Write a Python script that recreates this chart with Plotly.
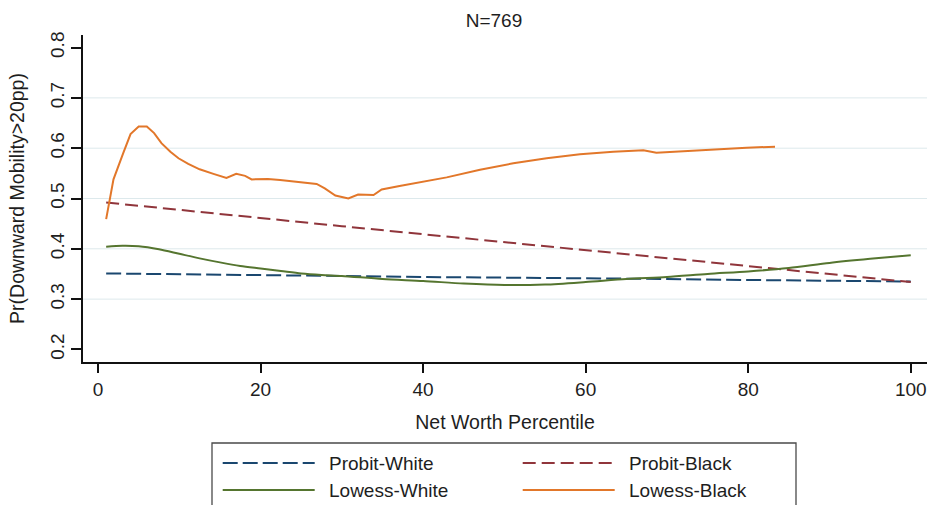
import plotly.graph_objects as go

# Net worth percentile grid and fitted probabilities
probit_x = [1, 10, 20, 30, 40, 50, 60, 70, 80, 90, 100]
probit_white = [0.351, 0.349, 0.348, 0.346, 0.344, 0.343, 0.341, 0.340, 0.338, 0.337, 0.335]
probit_black = [0.492, 0.477, 0.461, 0.445, 0.429, 0.413, 0.397, 0.381, 0.365, 0.349, 0.334]

lowess_white_x = [1, 3, 5, 7.5, 10, 12.5, 15, 17.5, 20, 22.5, 25, 27.5, 30, 35, 40, 45,
                  50, 55, 60, 65, 70, 75, 80, 85, 90, 95, 100]
lowess_white = [0.404, 0.406, 0.405, 0.399, 0.390, 0.381, 0.373, 0.366, 0.361, 0.356,
                0.351, 0.348, 0.346, 0.340, 0.336, 0.331, 0.328, 0.329, 0.334, 0.340,
                0.344, 0.350, 0.355, 0.362, 0.372, 0.380, 0.387]

lowess_black_x = [1.0, 1.9, 3.1, 4.0, 5.0, 6.0, 6.9, 7.8, 8.9, 9.9, 11.1, 12.5, 14.2, 15.8,
                  17.0, 18.1, 18.9, 20.9, 22.4, 24.4, 26.9, 27.9, 29.2, 30.8, 32.0, 33.9,
                  34.9, 37.1, 38.8, 42.9, 47.0, 51.1, 55.2, 59.3, 63.4, 67.1, 68.7, 71.6,
                  75.7, 79.8, 83.3]
lowess_black = [0.459, 0.538, 0.590, 0.628, 0.643, 0.643, 0.630, 0.610, 0.593, 0.580,
                0.569, 0.558, 0.549, 0.541, 0.549, 0.545, 0.538, 0.539, 0.537, 0.533,
                0.529, 0.520, 0.506, 0.500, 0.508, 0.507, 0.518, 0.525, 0.530, 0.542,
                0.557, 0.570, 0.580, 0.588, 0.593, 0.596, 0.591, 0.594, 0.598, 0.601,
                0.603]

y_ticks = [0.2, 0.3, 0.4, 0.5, 0.6, 0.7, 0.8]
x_ticks = [0, 20, 40, 60, 80, 100]

NAVY = "#1a476f"
MAROON = "#90353b"
GREEN = "#55752f"
ORANGE = "#e2772a"
FONT = "Liberation Sans, Arial, sans-serif"
TEXT = "#1e1e1e"

# name, x, y, colour, dash, smoothed
series = [
    ("Probit-White", probit_x, probit_white, NAVY, "15px,5px", False),
    ("Probit-Black", probit_x, probit_black, MAROON, "13px,6px", False),
    ("Lowess-White", lowess_white_x, lowess_white, GREEN, "solid", True),
    ("Lowess-Black", lowess_black_x, lowess_black, ORANGE, "solid", False),
]

fig = go.Figure()
for name, xs, ys, color, dash, smooth in series:
    line = dict(color=color, width=2, dash=dash)
    if smooth:
        line.update(shape="spline", smoothing=0.8)
    fig.add_trace(go.Scatter(x=xs, y=ys, mode="lines", name=name,
                             showlegend=False, line=line))

# Horizontal gridlines at interior ticks only
for v in y_ticks[1:-1]:
    fig.add_shape(type="line", xref="paper", yref="y", x0=0, x1=1, y0=v, y1=v,
                  line=dict(color="#dde9ec", width=1), layer="below")

# Legend box below the plot, two columns
W, H = 933, 505
L, R, T, B = 83, 6, 35, 143
pw, ph = W - L - R, H - T - B


def px(xp):
    return (xp - L) / pw


def py(yp):
    return (H - B - yp) / ph


fig.add_shape(type="rect", xref="paper", yref="paper",
              x0=px(212), x1=px(796), y0=py(443), y1=py(520),
              line=dict(color="#4a4a4a", width=1.3), fillcolor="white")

cells = [(222.7, 463), (522.7, 463), (222.7, 490), (522.7, 490)]
for (cx, cy), (name, _, _, color, dash, _s) in zip(cells, series):
    fig.add_shape(type="line", xref="paper", yref="paper",
                  x0=px(cx), x1=px(cx + 92), y0=py(cy), y1=py(cy),
                  line=dict(color=color, width=2, dash=dash))
    fig.add_annotation(xref="paper", yref="paper", x=px(cx + 104), y=py(cy),
                       text=name, showarrow=False, xanchor="left", yanchor="middle",
                       font=dict(family=FONT, size=19, color=TEXT))

fig.update_layout(
    width=W, height=H,
    margin=dict(l=L, r=R, t=T, b=B),
    paper_bgcolor="white", plot_bgcolor="white",
    font=dict(family=FONT, color=TEXT),
    title=dict(text="N=769", x=px(494), xref="paper", xanchor="center",
               y=1 - 20 / H, yanchor="middle",
               font=dict(family=FONT, size=19, color=TEXT)),
    showlegend=False,
)

fig.update_xaxes(
    range=[-1.85, 102.0], tickvals=x_ticks, ticktext=[str(t) for t in x_ticks],
    showgrid=False, zeroline=False, showline=True, linecolor="#111", linewidth=1.5,
    ticks="outside", ticklen=9, tickwidth=1.5, tickcolor="#111",
    tickfont=dict(family=FONT, size=19, color=TEXT),
    title=dict(text="Net Worth Percentile", standoff=17,
               font=dict(family=FONT, size=19.5, color=TEXT)),
    automargin=False,
)
fig.update_yaxes(
    range=[0.175, 0.825], tickvals=y_ticks, ticktext=[f"{t:.1f}" for t in y_ticks],
    tickangle=-90,
    showgrid=False, zeroline=False, showline=True, linecolor="#111", linewidth=1.5,
    ticks="outside", ticklen=10, tickwidth=1.5, tickcolor="#111",
    tickfont=dict(family=FONT, size=19, color=TEXT),
    title=dict(text="Pr(Downward Mobility>20pp)", standoff=17,
               font=dict(family=FONT, size=19.5, color=TEXT)),
    automargin=False,
)

fig.write_html("out.html")
